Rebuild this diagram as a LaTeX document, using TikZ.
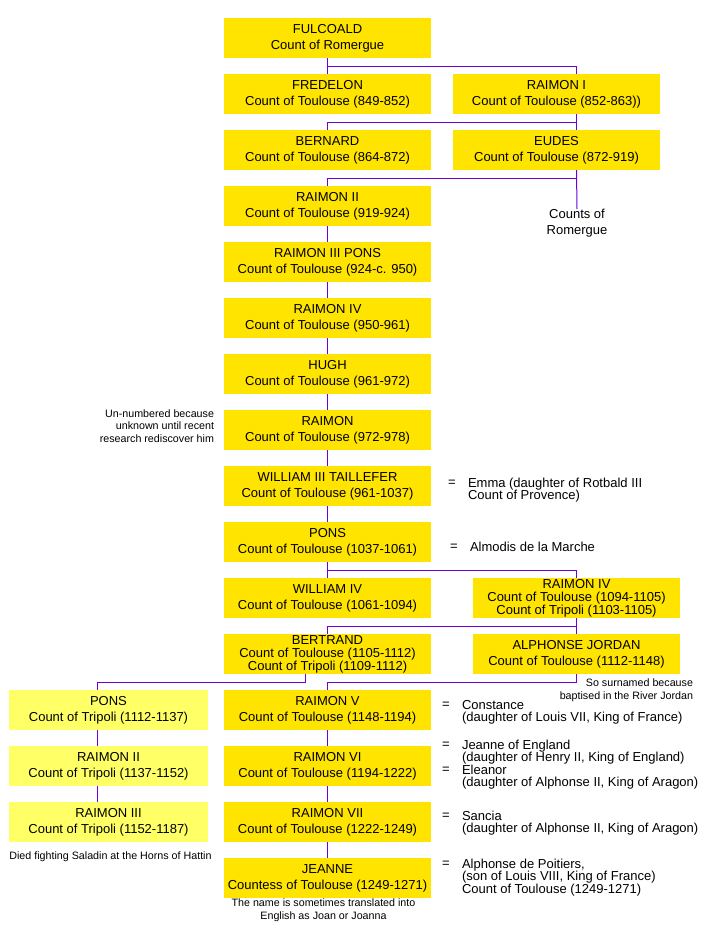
\documentclass[tikz,border=0pt]{standalone}
\usepackage{fontspec}
\setmainfont{Liberation Sans}
\definecolor{GoldYellow}{HTML}{FFE400}
\definecolor{PaleYellow}{HTML}{FFFF66}
\definecolor{LinkPurple}{HTML}{6E00D6}
\usetikzlibrary{positioning,calc}

\begin{document}
\begin{tikzpicture}[x=1pt, y=-1pt, node distance=16pt,
 count/.style={fill=GoldYellow, minimum width=207pt, minimum height=40pt, inner sep=0pt, outer sep=0pt, align=center, font=\fontsize{13}{16}\selectfont},
 count3/.style={count, font=\fontsize{13}{13}\selectfont},
 tripoli/.style={count, fill=PaleYellow, minimum width=199pt},
 link/.style={draw=LinkPurple, line width=1pt},
 eq/.style={inner sep=0pt, outer sep=0pt, font=\fontsize{13}{12.5}\selectfont},
 spouse/.style={eq, align=left, anchor=north west},
 tag/.style={inner sep=0pt, outer sep=0pt, align=center, font=\fontsize{13}{16}\selectfont},
 remark/.style={inner sep=0pt, outer sep=0pt, font=\fontsize{10.7}{12.5}\selectfont}]

 \fill[white] (0,0) rectangle (717,940);
 \useasboundingbox (0,0) rectangle (717,940);

 % main line
 \node (fulcoald) [count] at (327.5,38) {FULCOALD\\Count of Romergue};
 \node (fredelon) [count, below=of fulcoald] {FREDELON\\Count of Toulouse (849-852)};
 \node (raimonI) [count, right=22pt of fredelon] {RAIMON I\\Count of Toulouse (852-863))};
 \node (bernard) [count, below=of fredelon] {BERNARD\\Count of Toulouse (864-872)};
 \node (eudes) [count, right=22pt of bernard] {EUDES\\Count of Toulouse (872-919)};
 \node (raimonII) [count, below=of bernard] {RAIMON II\\Count of Toulouse (919-924)};
 \node (raimonIII) [count, below=of raimonII] {RAIMON III PONS\\Count of Toulouse (924-c. 950)};
 \node (raimonIV) [count, below=of raimonIII] {RAIMON IV\\Count of Toulouse (950-961)};
 \node (hugh) [count, below=of raimonIV] {HUGH\\Count of Toulouse (961-972)};
 \node (raimon) [count, below=of hugh] {RAIMON\\Count of Toulouse (972-978)};
 \node (williamIII) [count, below=of raimon] {WILLIAM III TAILLEFER\\Count of Toulouse (961-1037)};
 \node (pons) [count, below=of williamIII] {PONS\\Count of Toulouse (1037-1061)};
 \node (williamIV) [count, below=of pons] {WILLIAM IV\\Count of Toulouse (1061-1094)};
 \node (raimonIVb) [count3, right=42pt of williamIV] {RAIMON IV\\Count of Toulouse (1094-1105)\\Count of Tripoli (1103-1105)};
 \node (bertrand) [count3, below=of williamIV] {BERTRAND\\Count of Toulouse (1105-1112)\\Count of Tripoli (1109-1112)};
 \node (alphonse) [count, right=42pt of bertrand] {ALPHONSE JORDAN\\Count of Toulouse (1112-1148)};
 \node (raimonV) [count, below=of bertrand] {RAIMON V\\Count of Toulouse (1148-1194)};
 \node (raimonVI) [count, below=of raimonV] {RAIMON VI\\Count of Toulouse (1194-1222)};
 \node (raimonVII) [count, below=of raimonVI] {RAIMON VII\\Count of Toulouse (1222-1249)};
 \node (jeanne) [count, below=of raimonVII] {JEANNE\\Countess of Toulouse (1249-1271)};

 % Tripoli
 \node (ponsTr) [tripoli, left=16pt of raimonV] {PONS\\Count of Tripoli (1112-1137)};
 \node (raimonIITr) [tripoli, below=of ponsTr] {RAIMON II\\Count of Tripoli (1137-1152)};
 \node (raimonIIITr) [tripoli, below=of raimonIITr] {RAIMON III\\Count of Tripoli (1152-1187)};

 \node (romergue) [tag, anchor=north] at (577,209) {Counts of\\Romergue};
 \node (unnumbered) [remark, align=right, anchor=east] at (214,426) {Un-numbered because\\unknown until recent\\research rediscover him};
 \node (jordannote) [remark, align=right, anchor=north east] at (693,679) {So surnamed because\\baptised in the River Jordan};
 \node (hattin) [remark, below=10pt of raimonIIITr, xshift=2pt] {Died fighting Saladin at the Horns of Hattin};
 \node (joan) [remark, align=center, below=1pt of jeanne, xshift=-4pt] {The name is sometimes translated into\\English as Joan or Joanna};

 % marriages
 \node (eqEmma) [eq] at (452,483) {=};
 \node (emma) [spouse] at (468,478) {Emma (daughter of Rotbald III\\Count of Provence)};
 \node (eqAlmodis) [eq] at (454,547) {=};
 \node (almodis) [eq, anchor=west] at (470,547) {Almodis de la Marche};
 \node (eqConstance) [eq] at (446,705) {=};
 \node (constance) [spouse] at (462,700) {Constance\\(daughter of Louis VII, King of France)};
 \node (eqJeanneE) [eq] at (446,745) {=};
 \node (jeanneE) [spouse] at (462,740) {Jeanne of England\\(daughter of Henry II, King of England)};
 \node (eqEleanor) [eq] at (446,770) {=};
 \node (eleanor) [spouse] at (462,765) {Eleanor\\(daughter of Alphonse II, King of Aragon)};
 \node (eqSancia) [eq] at (446,816) {=};
 \node (sancia) [spouse] at (462,811) {Sancia\\(daughter of Alphonse II, King of Aragon)};
 \node (eqPoitiers) [eq] at (446,864) {=};
 \node (poitiers) [spouse] at (462,859) {Alphonse de Poitiers,\\(son of Louis VIII, King of France)\\Count of Toulouse (1249-1271)};

 % lines
 \draw[link] (fulcoald) -- (fredelon);
 \draw[link] (fulcoald.south) -- ++(0,8) -| ([xshift=20pt]raimonI.north);
 \draw[link] ([xshift=20pt]raimonI.south) -- ([xshift=20pt]eudes.north);
 \draw[link] ([xshift=20pt]raimonI.south) -- ++(0,8) -| (bernard.north);
 \draw[link] ([xshift=20pt]eudes.south) -- (romergue.north);
 \draw[link] ([xshift=20pt]eudes.south) -- ++(0,8) -| (raimonII.north);
 \foreach \a/\b in {raimonII/raimonIII, raimonIII/raimonIV, raimonIV/hugh, hugh/raimon, raimon/williamIII, williamIII/pons, pons/williamIV, raimonV/raimonVI, raimonVI/raimonVII, raimonVII/jeanne}
  \draw[link] (\a) -- (\b);
 \draw[link] (pons.south) -- ++(0,8) -| (raimonIVb.north);
 \draw[link] (raimonIVb) -- (alphonse);
 \draw[link] (raimonIVb.south) -- ++(0,8) -| (bertrand.north);
 \draw[link] ([xshift=-22.5pt]bertrand.south) -- ++(0,8) -| ([xshift=-11.5pt]ponsTr.north);
 \draw[link] (alphonse.south) -- ++(0,8) -| (raimonV.north);
 \draw[link] ([xshift=-11.5pt]ponsTr.south) -- ([xshift=-11.5pt]raimonIITr.north);
 \draw[link] ([xshift=-11.5pt]raimonIITr.south) -- ([xshift=-11.5pt]raimonIIITr.north);

\end{tikzpicture}
\end{document}
